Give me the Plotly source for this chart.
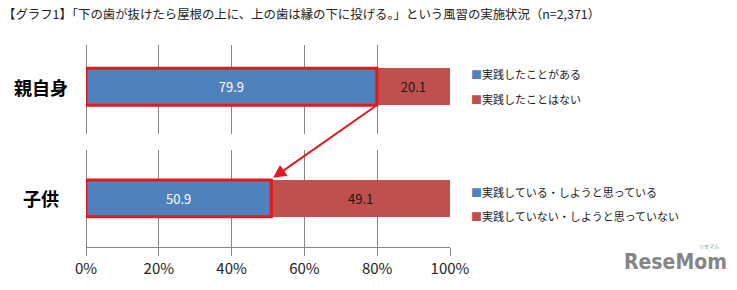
import plotly.graph_objects as go

# ---- data ----
title_text = "【グラフ1】「下の歯が抜けたら屋根の上に、上の歯は縁の下に投げる。」という風習の実施状況（n=2,371）"
categories = ["親自身", "子供"]
yes_values = [79.9, 50.9]
no_values = [20.1, 49.1]
yes_labels = ["実践したことがある", "実践している・しようと思っている"]
no_labels = ["実践したことはない", "実践していない・しようと思っていない"]
x_ticks = [0, 20, 40, 60, 80, 100]
x_tick_labels = ["0%", "20%", "40%", "60%", "80%", "100%"]

BLUE = "#4F81BD"
RED = "#C0504D"
HILITE = "#E3191F"
GRID = "#868686"
JP = "Noto Sans CJK JP"
BAR_W = 0.33

# layout geometry (pixels)
W, H = 737, 290
ML, MR, MT, MB = 86, 287, 45, 37
PLOT_H = H - MT - MB
top_dom = [(253 - 137) / PLOT_H, 1]
bot_dom = [0, (253 - 153) / PLOT_H]
top_rng = [-49 / 115, 43 / 115]
bot_rng = [-0.435, 0.435]


def y_to_paper(v, dom, rng):
    return dom[0] + (v - rng[0]) / (rng[1] - rng[0]) * (dom[1] - dom[0])


def paper_to_y(p, dom, rng):
    return rng[0] + (p - dom[0]) / (dom[1] - dom[0]) * (rng[1] - rng[0])


# panel i=0 (top) uses x2/y2, panel i=1 (bottom) uses x/y
axes = [("x2", "y2"), ("x", "y")]

fig = go.Figure()

for i, cat in enumerate(categories):
    xa, ya = axes[i]
    fig.add_trace(go.Bar(
        y=[cat], x=[yes_values[i]], orientation="h", width=BAR_W,
        xaxis=xa, yaxis=ya,
        marker=dict(color=BLUE, line=dict(width=0)),
        text=[f"{yes_values[i]:.1f}"], textposition="inside",
        insidetextanchor="middle",
        textfont=dict(color="white", size=13, family=JP),
        showlegend=False, hoverinfo="skip"))
    fig.add_trace(go.Bar(
        y=[cat], x=[no_values[i]], orientation="h", width=BAR_W,
        xaxis=xa, yaxis=ya,
        marker=dict(color=RED, line=dict(width=0)),
        text=[f"{no_values[i]:.1f}"], textposition="inside",
        insidetextanchor="middle",
        textfont=dict(color="#1a1a1a", size=13, family=JP),
        showlegend=False, hoverinfo="skip"))

# highlight boxes around the blue bars
for i, cat in enumerate(categories):
    xa, ya = axes[i]
    fig.add_shape(type="rect", xref=xa, yref=ya,
                  x0=0, x1=yes_values[i],
                  y0=-BAR_W / 2, y1=BAR_W / 2,
                  line=dict(color=HILITE, width=3), fillcolor="rgba(0,0,0,0)")

# arrow from parent bar end (top panel) to child bar end (bottom panel)
tail_paper = y_to_paper(-BAR_W / 2, top_dom, top_rng)
tail_y = paper_to_y(tail_paper, bot_dom, bot_rng)
fig.add_annotation(x=yes_values[1] + 0.5, y=BAR_W / 2 + 0.02,
                   ax=yes_values[0], ay=tail_y,
                   xref="x", yref="y", axref="x", ayref="y",
                   showarrow=True, arrowhead=2, arrowsize=1.3, arrowwidth=2,
                   arrowcolor=HILITE, text="")

# category labels (centered, bold)
for i, cat in enumerate(categories):
    xa, ya = axes[i]
    fig.add_annotation(x=-45 / 364, xref="paper", y=cat, yref=ya,
                       text=cat, showarrow=False, xanchor="center",
                       font=dict(size=18, family=JP, color="black", weight="bold"))

# legend-like annotations
leg_pos = [(75, 101), (196, 221)]
for i in range(2):
    for lab, col, ypix in [(yes_labels[i], BLUE, leg_pos[i][0]), (no_labels[i], RED, leg_pos[i][1])]:
        fig.add_annotation(
            x=(469 - ML) / 364, xref="paper", y=(253 - ypix) / PLOT_H, yref="paper",
            xanchor="left", yanchor="middle", showarrow=False,
            text=f"<span style='color:{col}'>■</span>{lab}",
            font=dict(size=11, family=JP, color="#222222"))

# logo
fig.add_annotation(x=(729 - ML) / 364, y=(253 - 268) / PLOT_H, xref="paper", yref="paper",
                   xanchor="right", yanchor="middle", showarrow=False,
                   text="ReseMom",
                   font=dict(size=21, family="DejaVu Sans Condensed, Liberation Sans", color="#858585", weight="bold"))
fig.add_annotation(x=(721 - ML) / 364, y=(253 - 252) / PLOT_H, xref="paper", yref="paper",
                   xanchor="right", yanchor="middle", showarrow=False,
                   text="リセマム",
                   font=dict(size=5, family=JP, color="#858585"))

xcommon = dict(range=[0, 100], tickvals=x_ticks, ticktext=x_tick_labels,
               showgrid=True, gridcolor=GRID, gridwidth=1,
               zeroline=True, zerolinecolor=GRID, zerolinewidth=1,
               fixedrange=True, layer="below traces")

fig.update_layout(
    width=W, height=H,
    margin=dict(l=ML, r=MR, t=MT, b=MB),
    barmode="stack",
    plot_bgcolor="rgba(0,0,0,0)", paper_bgcolor="white",
    title=dict(text=title_text, xref="container", yref="container",
               x=3 / W, xanchor="left", y=1 - 15 / H, yanchor="middle",
               font=dict(size=12.4, family=JP, color="#222222")),
    xaxis=dict(**xcommon, anchor="y",
               showline=True, linecolor=GRID, linewidth=1,
               ticks="outside", ticklen=8, tickcolor=GRID,
               tickfont=dict(size=15, family=JP, color="#222222")),
    xaxis2=dict(**xcommon, anchor="y2", matches="x", showticklabels=False,
                showline=False, ticks=""),
    yaxis=dict(type="category", domain=bot_dom,
               range=bot_rng, showticklabels=False, showgrid=False,
               zeroline=False, showline=False, fixedrange=True),
    yaxis2=dict(type="category", domain=top_dom,
                range=top_rng, showticklabels=False, showgrid=False,
                zeroline=False, showline=False, fixedrange=True),
    showlegend=False,
)

fig.write_html("out.html")
